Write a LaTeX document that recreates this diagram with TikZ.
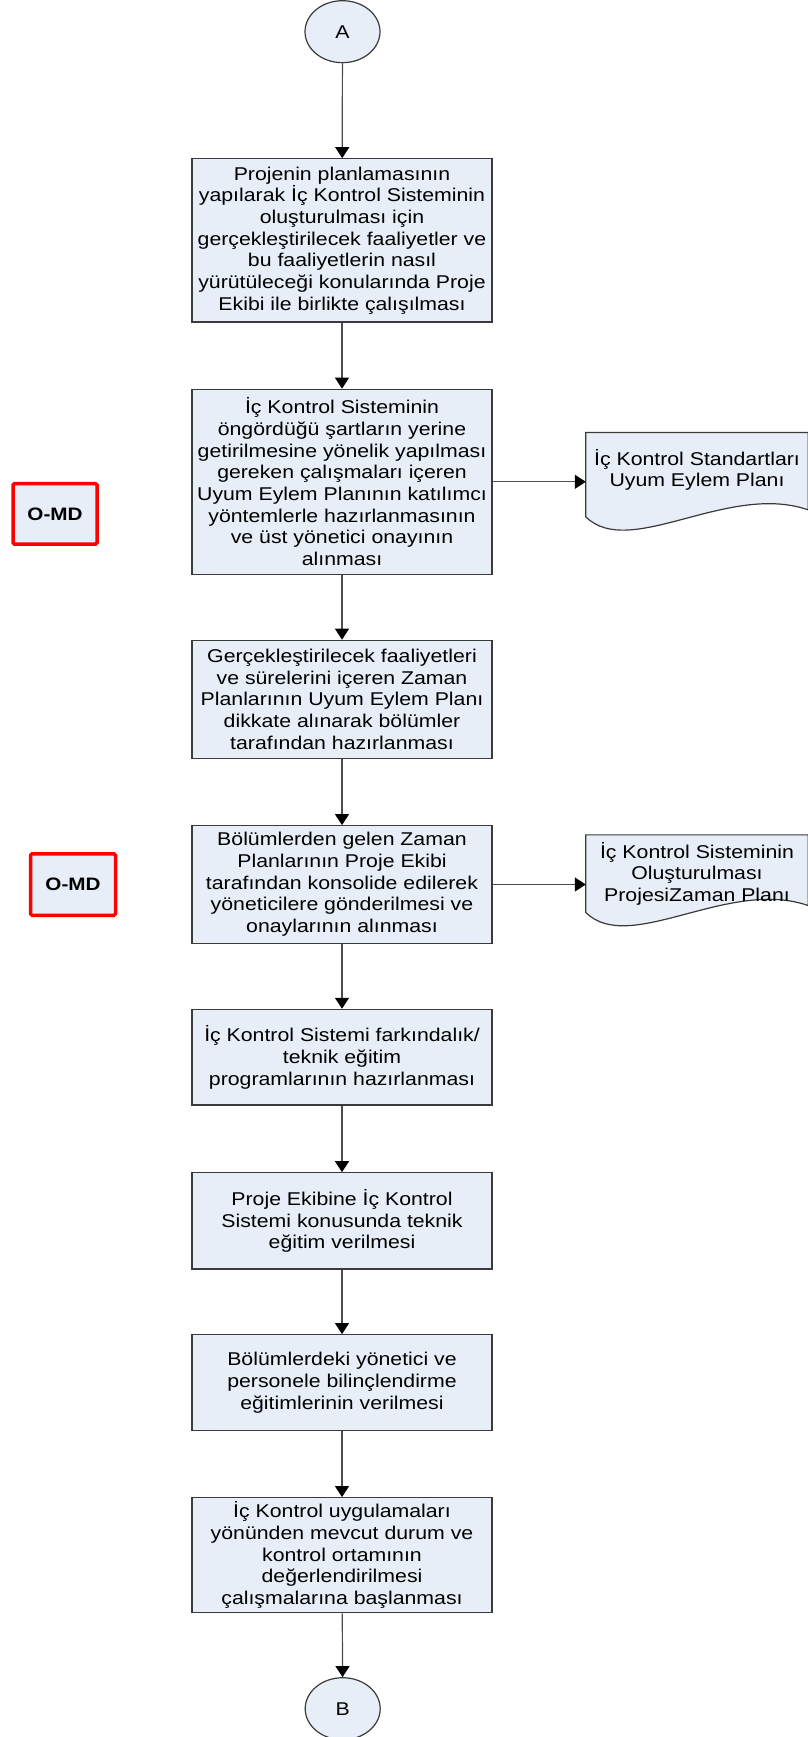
\documentclass[tikz,border=0pt]{standalone}
\usepackage{fontspec}
\setmainfont[FakeStretch=1.15]{Liberation Sans}
\usetikzlibrary{arrows.meta,shapes.geometric,backgrounds}

\definecolor{boxfill}{HTML}{E8EEF7}
\definecolor{boxline}{HTML}{3A3A3A}
\definecolor{arrline}{HTML}{4D4D4D}

\begin{document}
\begin{tikzpicture}[x=1pt,y=-1pt]
	\tikzstyle{proc} = [ draw=boxline, fill=boxfill, rectangle, line width=1.2pt, minimum width=300pt, inner sep=2pt, align=center, font={\fontsize{18.5}{21.7}\selectfont}];
	\tikzstyle{conn} = [ draw=boxline, fill=boxfill, ellipse, line width=1.2pt, minimum width=75pt, minimum height=62pt, inner sep=0pt, font={\fontsize{18.5}{21.7}\selectfont}];
	\tikzstyle{doc} = [ rectangle, inner sep=0pt, minimum width=222pt, align=center, font={\fontsize{18.5}{21.2}\selectfont}];
	\tikzstyle{docline} = [ draw=boxline, fill=boxfill, line width=1.2pt];
	\tikzstyle{omd} = [ draw=red, fill=boxfill, rectangle, line width=3.5pt, rounded corners=1.5pt, font={\bfseries\fontsize{18}{20}\selectfont}];
	\tikzstyle{point} = [ draw=arrline, line width=1.2pt, -{Triangle[length=11pt,width=14pt,color=black]} ];

	\useasboundingbox (0,0) rectangle (807,1737);

	\node[conn] (A) at (342.5,31.7) {A};

	\node[proc, minimum height=163.3pt] (s1) at (342,240.4) {Projenin planlamasının\\yapılarak İç Kontrol Sisteminin\\oluşturulması için\\gerçekleştirilecek faaliyetler ve\\bu faaliyetlerin nasıl\\yürütüleceği konularında Proje\\Ekibi ile birlikte çalışılması};
	\node[proc, minimum height=185pt] (s2) at (342,481.8) {İç Kontrol Sisteminin\\öngördüğü şartların yerine\\getirilmesine yönelik yapılması\\gereken çalışmaları içeren\\Uyum Eylem Planının katılımcı\\yöntemlerle hazırlanmasının\\ve üst yönetici onayının\\alınması};
	\node[proc, minimum height=118pt] (s3) at (342,699.3) {Gerçekleştirilecek faaliyetleri\\ve sürelerini içeren Zaman\\Planlarının Uyum Eylem Planı\\dikkate alınarak bölümler\\tarafından hazırlanması};
	\node[proc, minimum height=117.6pt] (s4) at (342,884.5) {Bölümlerden gelen Zaman\\Planlarının Proje Ekibi\\tarafından konsolide edilerek\\yöneticilere gönderilmesi ve\\onaylarının alınması};
	\node[proc, minimum height=95.7pt] (s5) at (342,1057.2) {İç Kontrol Sistemi farkındalık/\\teknik eğitim\\programlarının hazırlanması};
	\node[proc, minimum height=96.3pt] (s6) at (342,1220.9) {Proje Ekibine İç Kontrol\\Sistemi konusunda teknik\\eğitim verilmesi};
	\node[proc, minimum height=96pt] (s7) at (342,1382.7) {Bölümlerdeki yönetici ve\\personele bilinçlendirme\\eğitimlerinin verilmesi};
	\node[proc, minimum height=115pt] (s8) at (342,1555.2) {İç Kontrol uygulamaları\\yönünden mevcut durum ve\\kontrol ortamının\\değerlendirilmesi\\çalışmalarına başlanması};

	\node[conn] (B) at (342.7,1708.7) {B};

	\node[doc, minimum height=84pt, text depth=14pt] (d1) at (697,474.7) {İç Kontrol Standartları\\Uyum Eylem Planı};
	\node[doc, minimum height=77.3pt] (d2) at (697,873.7) {İç Kontrol Sisteminin\\Oluşturulması\\ProjesiZaman Planı};

	\begin{scope}[on background layer]
		\foreach \d in {d1,d2}
			\draw[docline] (\d.south west) -- (\d.north west) -- (\d.north east) -- ([yshift=7pt]\d.south east) .. controls +(-80,-28) and +(44,43) .. (\d.south west) -- cycle;
	\end{scope}

	\node[omd, minimum width=84pt, minimum height=60.5pt] (o1) at (55,513.8) {O-MD};
	\node[omd, minimum width=85pt, minimum height=61.5pt] (o2) at (73,884.5) {O-MD};

	\foreach \a/\b in {A/s1, s1/s2, s2/s3, s3/s4, s4/s5, s5/s6, s6/s7, s7/s8, s8/B}
		\draw[point] (\a) -- (\b);

	\draw[point] (s2.east) -- (s2.east -| d1.west);
	\draw[point] (s4.east) -- (s4.east -| d2.west);
\end{tikzpicture}
\end{document}
